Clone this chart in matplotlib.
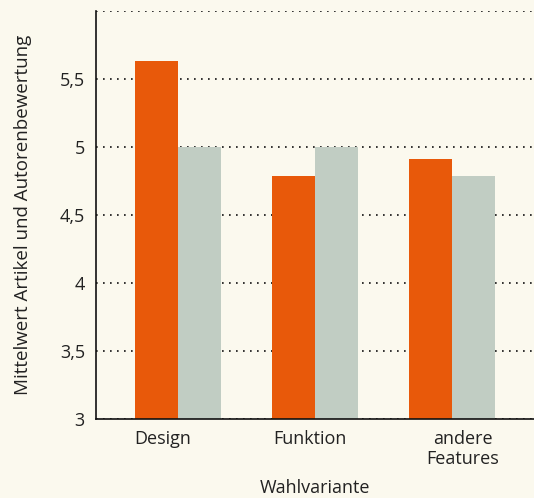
import matplotlib
matplotlib.use("Agg")
import matplotlib.pyplot as plt
import numpy as np

# Werte
kategorien = ["Design", "Funktion", "andere\nFeatures"]
artikel = [5.63, 4.79, 4.91]
autoren = [5.0, 5.0, 4.79]
y_ticks = [3, 3.5, 4, 4.5, 5, 5.5, 6]
y_tick_labels = ["3", "3,5", "4", "4,5", "5", "5,5", ""]

plt.rcParams["font.family"] = ["Open Sans", "DejaVu Sans"]

bg = "#fbf9ee"
fs = 13
fig = plt.figure(figsize=(5.34, 4.98), dpi=100, facecolor=bg)
ax = fig.add_axes([96 / 534, 79 / 498, 438 / 534, 408 / 498], facecolor=bg)

x = np.arange(len(kategorien))
w = 0.315
ax.bar(x - w / 2, artikel, width=w, color="#e8590a", zorder=2)
ax.bar(x + w / 2, autoren, width=w, color="#c1cdc3", zorder=2)

ax.set_ylim(3, 6)
ax.set_xlim(-0.6, 2.6)
ax.set_yticks(y_ticks)
ax.set_yticklabels(y_tick_labels)
# Beschriftungen sitzen im Original nicht genau mittig unter den Gruppen
ax.set_xticks(x + np.array([-0.11, -0.035, 0.08]))
ax.set_xticklabels(kategorien, linespacing=1.15)
ax.tick_params(length=0, labelsize=fs, colors="#222222")
ax.tick_params(axis="x", pad=8)
ax.tick_params(axis="y", pad=8)

ax.grid(axis="y", linestyle=(0, (1, 3.2)), color="#111111", linewidth=1.2, zorder=1)
for s in ["top", "right"]:
    ax.spines[s].set_visible(False)
for s in ["left", "bottom"]:
    ax.spines[s].set_color("#111111")
    ax.spines[s].set_linewidth(1.2)

ax.set_ylabel("Mittelwert Artikel und Autorenbewertung", fontsize=13.5, color="#222222", labelpad=20)
ax.set_xlabel("Wahlvariante", fontsize=fs, color="#222222", labelpad=8)

fig.savefig("out.png", dpi=100, facecolor=bg)
